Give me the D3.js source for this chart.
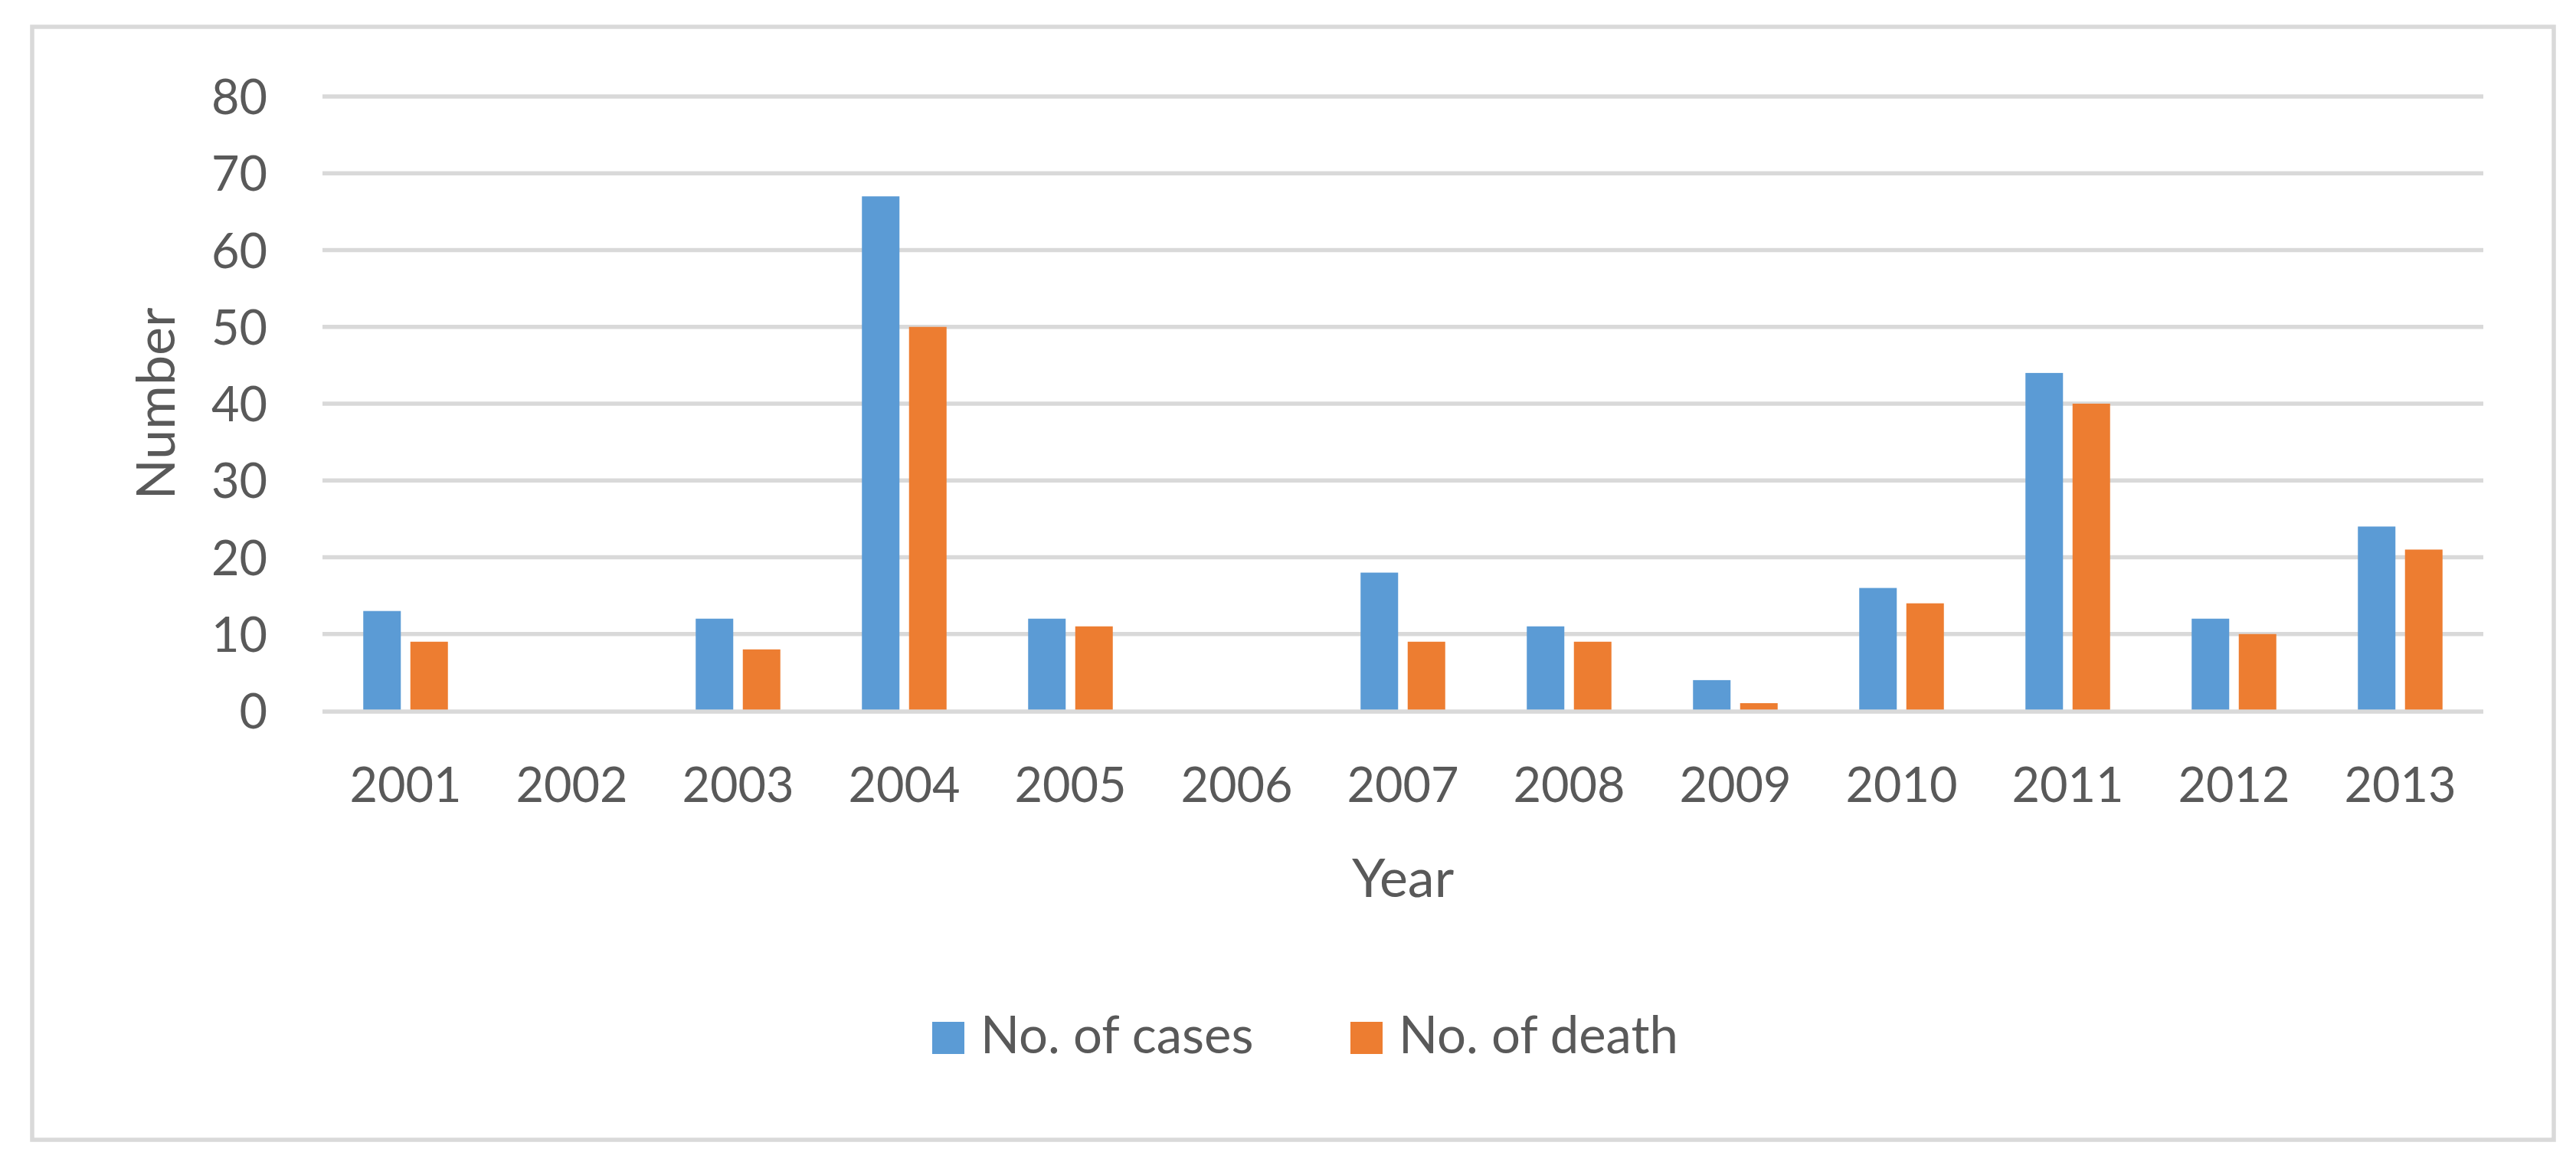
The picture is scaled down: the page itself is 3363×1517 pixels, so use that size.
<!DOCTYPE html>
<html>
<head>
<meta charset="utf-8">
<script src="https://cdn.jsdelivr.net/npm/d3@7"></script>
<style>
  html, body { margin: 0; padding: 0; background: #ffffff; }
  svg { display: block; }
  text { font-family: Lato, "Open Sans", sans-serif; fill: #595959; }
</style>
</head>
<body>
<svg id="chart" width="3363" height="1517"></svg>
<script>
const years = ["2001","2002","2003","2004","2005","2006","2007","2008","2009","2010","2011","2012","2013"];
const seriesNames = ["No. of cases", "No. of death"];
const cases  = [13, 0, 12, 67, 12, 0, 18, 11, 4, 16, 44, 12, 24];
const deaths = [9, 0, 8, 50, 11, 0, 9, 9, 1, 14, 40, 10, 21];
const yTicks = [0, 10, 20, 30, 40, 50, 60, 70, 80];
const colors = ["#5B9BD5", "#ED7D31"];

const svg = d3.select("#chart");

// outer frame
svg.append("rect")
  .attr("x", 42).attr("y", 35).attr("width", 3292).attr("height", 1453)
  .attr("fill", "#ffffff").attr("stroke", "#d9d9d9").attr("stroke-width", 5.5);

const x = d3.scaleBand().domain(years).range([421, 3242]).paddingInner(0).paddingOuter(0);
const bw = x.bandwidth();
const xs = d3.scaleBand().domain(seriesNames).range([bw/2 - 55.25, bw/2 + 55.25]).paddingInner(0.203).paddingOuter(0);
const y = d3.scaleLinear().domain([0, 80]).range([928, 126]);

// gridlines
svg.append("g").selectAll("line").data(yTicks.filter(d => d !== 0)).join("line")
  .attr("x1", 421).attr("x2", 3242)
  .attr("y1", d => y(d)).attr("y2", d => y(d))
  .attr("stroke", "#d9d9d9").attr("stroke-width", 5.5);

// bars
const data = years.map((yr, i) => ({year: yr, values: [cases[i], deaths[i]]}));
const groups = svg.append("g").selectAll("g").data(data).join("g")
  .attr("transform", d => `translate(${x(d.year)},0)`);
groups.selectAll("rect").data(d => d.values.map((v, j) => ({name: seriesNames[j], v, j}))).join("rect")
  .attr("x", d => xs(d.name))
  .attr("width", xs.bandwidth())
  .attr("y", d => y(d.v))
  .attr("height", d => y(0) - y(d.v))
  .attr("fill", d => colors[d.j]);

// axis line at 0
svg.append("line")
  .attr("x1", 421).attr("x2", 3242)
  .attr("y1", y(0) + 1).attr("y2", y(0) + 1)
  .attr("stroke", "#d9d9d9").attr("stroke-width", 5.5);

// y tick labels
const yAxis = d3.axisLeft(y).tickValues(yTicks).tickSize(0).tickPadding(0);
const gy = svg.append("g").attr("transform", "translate(349,0)").call(yAxis);
gy.select(".domain").remove();
gy.selectAll("text")
  .attr("font-size", 63).attr("dy", "0.36em").attr("x", 0)
  .style("font-family", "Lato, sans-serif").attr("fill", "#595959");

// x tick labels
const xAxis = d3.axisBottom(x).tickSize(0).tickPadding(0);
const gx = svg.append("g").attr("transform", "translate(0,1047)").call(xAxis);
gx.select(".domain").remove();
gx.selectAll("text")
  .attr("font-size", 63).attr("dy", 0).attr("y", 0)
  .style("font-family", "Lato, sans-serif").attr("fill", "#595959");

// axis titles
svg.append("text")
  .attr("x", (421 + 3242) / 2).attr("y", 1171)
  .attr("text-anchor", "middle").attr("font-size", 70)
  .text("Year");
svg.append("text")
  .attr("transform", "translate(228,527) rotate(-90)")
  .attr("text-anchor", "middle").attr("font-size", 70)
  .text("Number");

// legend
const legendX = [1217, 1763];
const leg = svg.append("g").selectAll("g").data(seriesNames).join("g")
  .attr("transform", (d, i) => `translate(${legendX[i]},0)`);
leg.append("rect").attr("x", 0).attr("y", 1334).attr("width", 42).attr("height", 42)
  .attr("fill", (d, i) => colors[i]);
leg.append("text").attr("x", 63).attr("y", 1375).attr("font-size", 67).text(d => d);
</script>
</body>
</html>
